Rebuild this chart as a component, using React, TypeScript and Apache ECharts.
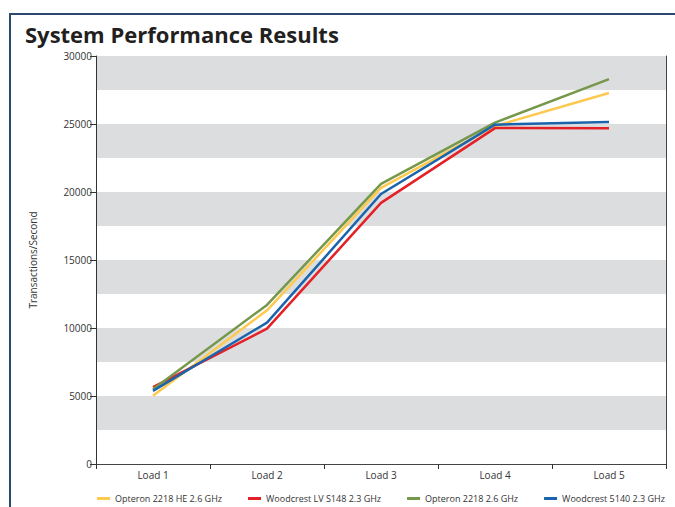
import React, { useEffect, useRef } from "react";
import * as echarts from "echarts";

const categories = ["Load 1", "Load 2", "Load 3", "Load 4", "Load 5"];
const seriesNames = [
  "Opteron 2218 HE 2.6 GHz",
  "Woodcrest LV S148 2.3 GHz",
  "Opteron 2218 2.6 GHz",
  "Woodcrest 5140 2.3 GHz",
];
const opteronHE = [5020, 11300, 20300, 24850, 27280];
const woodcrestLV = [5650, 9950, 19200, 24700, 24680];
const opteron = [5500, 11700, 20600, 25100, 28300];
const woodcrest5140 = [5380, 10400, 19850, 24950, 25150];
const yTicks = { min: 0, max: 30000, interval: 5000, band: 2500 };

const colors = ["#fec94f", "#e42127", "#76984a", "#1a64ad"];
const FONT = "'Open Sans', 'Noto Sans', sans-serif";

export default function App() {
  const ref = useRef<HTMLDivElement>(null);

  useEffect(() => {
    if (!ref.current) return;
    const chart = echarts.init(ref.current, undefined, { renderer: "svg" });
    const values = [opteronHE, woodcrestLV, opteron, woodcrest5140];
    chart.setOption({
      animation: false,
      backgroundColor: "#ffffff",
      color: colors,
      title: {
        text: "System Performance Results",
        left: 20,
        top: 18,
        textStyle: {
          fontFamily: FONT,
          fontSize: 22,
          fontWeight: "bold",
          color: "#231f20",
        },
      },
      graphic: [
        {
          type: "rect",
          shape: { x: 10, y: 14, width: 720, height: 560 },
          style: { fill: "none", stroke: "#2c4a6e", lineWidth: 2 },
          silent: true,
        },
      ],
      legend: {
        data: seriesNames,
        left: 97,
        top: 494,
        width: 575,
        padding: 0,
        icon: "rect",
        itemWidth: 13,
        itemHeight: 3,
        itemGap: 26,
        textStyle: { fontFamily: FONT, fontSize: 9, color: "#333" },
      },
      grid: { left: 96, top: 56, right: 9, bottom: 43 },
      xAxis: [
        {
          type: "category",
          data: categories,
          boundaryGap: true,
          axisLine: { lineStyle: { color: "#333", width: 1 } },
          axisTick: { show: true, length: 5, lineStyle: { color: "#333" } },
          axisLabel: { fontFamily: FONT, fontSize: 10, color: "#333", margin: 6 },
        },
        {
          type: "category",
          data: categories,
          position: "top",
          axisLine: { lineStyle: { color: "#444", width: 1 } },
          axisTick: { show: false },
          axisLabel: { show: false },
        },
      ],
      yAxis: [
        {
          type: "value",
          min: yTicks.min,
          max: yTicks.max,
          interval: yTicks.interval,
          name: "Transactions/Second",
          nameLocation: "middle",
          nameRotate: 90,
          nameGap: 58,
          nameTextStyle: { fontFamily: FONT, fontSize: 10, color: "#333" },
          axisLine: { show: true, lineStyle: { color: "#333", width: 1 } },
          axisTick: { show: true, length: 6, lineStyle: { color: "#333" } },
          axisLabel: {
            fontFamily: FONT,
            fontSize: 10,
            color: "#333",
            margin: 4,
            formatter: (v: number) => String(v),
          },
          splitLine: { show: false },
        },
        {
          type: "value",
          position: "right",
          min: yTicks.min,
          max: yTicks.max,
          interval: yTicks.band,
          axisLine: { show: true, lineStyle: { color: "#444", width: 1 } },
          axisTick: { show: false },
          axisLabel: { show: false },
          splitLine: { show: false },
          splitArea: {
            show: true,
            areaStyle: { color: ["#ffffff", "#dcdddf"] },
          },
        },
      ],
      series: seriesNames.map((name, i) => ({
        name,
        type: "line",
        data: values[i],
        symbol: "none",
        lineStyle: { width: 2.5, color: colors[i] },
        itemStyle: { color: colors[i] },
      })),
    });
    return () => chart.dispose();
  }, []);

  return (
    <div
      ref={ref}
      style={{ position: "absolute", left: 0, top: 0, width: 675, height: 507 }}
    />
  );
}
